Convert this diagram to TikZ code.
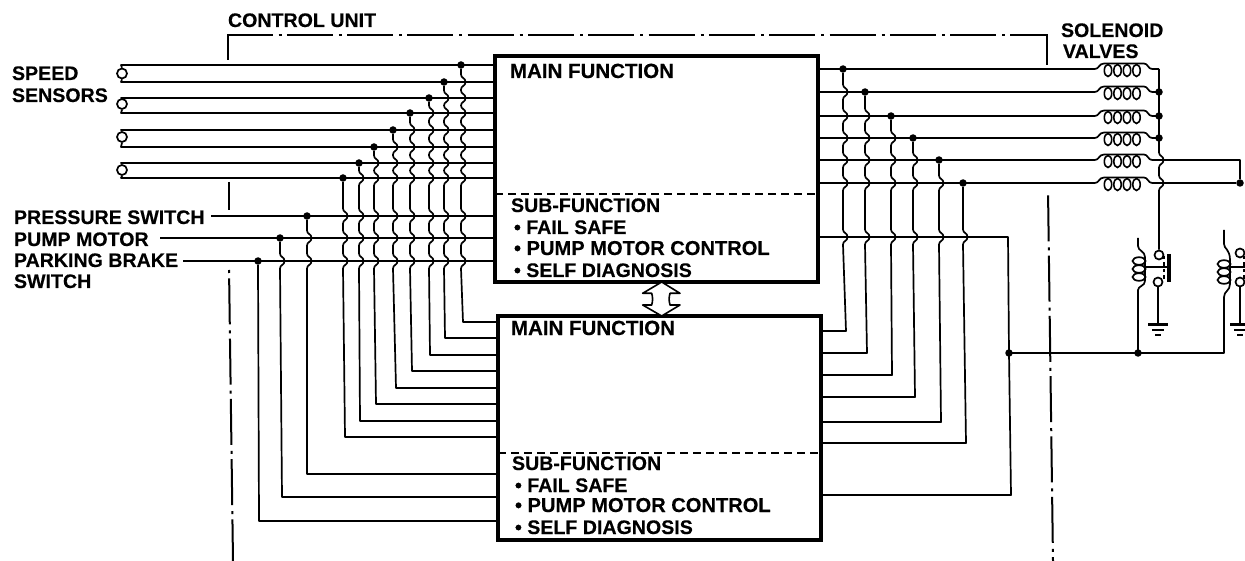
\documentclass[tikz,border=0pt]{standalone}
\usepackage{fontspec}
\setmainfont{Liberation Sans}[BoldFont={Liberation Sans Bold},BoldFeatures={FakeBold=0.25}]
\tikzset{
  wire/.style={line width=1.7pt,line join=round},
  fnbox/.style={draw,line width=3.2pt,minimum width=323pt,inner sep=0pt,outer sep=0pt},
  lbl/.style={anchor=base west,inner sep=0pt,outer sep=0pt,font=\fontsize{19.6pt}{20pt}\selectfont\bfseries},
  widelbl/.style={lbl,font=\fontsize{20.5pt}{21pt}\selectfont\bfseries},
  midlbl/.style={lbl,font=\fontsize{20.1pt}{21pt}\selectfont\bfseries},
  jdot/.style={circle,fill=black,inner sep=0pt,minimum size=7.5pt},
  ctact/.style={circle,draw,line width=1.7pt,fill=white,inner sep=0pt,minimum size=9pt},
  bound/.style={line width=2pt,dash pattern=on 46pt off 6pt on 3pt off 5.3pt},
  sepline/.style={line width=1.3pt,dash pattern=on 8pt off 5pt},
  solcoil/.pic={
    \draw[wire] (0,0) .. controls (4,0) and (4,-5.5) .. (9,-5.5) -- (49,-5.5) .. controls (53,-5.5) and (53,0) .. (57,0);
    \foreach \cx in {13,22.5,32,41.5}
      \draw[line width=1.6pt] (\cx,1.5) ellipse (3.7 and 6);
  },
  relaycoil/.pic={
    \foreach \cy in {-8,0,8}
      \draw[line width=1.7pt] (0,\cy) ellipse (6.5 and 3.8);
    \draw[line width=1.5pt] (6,-12) -- (6,12);
  },
  earth/.pic={
    \draw[line width=3pt] (-10,0) -- (10,0);
    \draw[line width=1.4pt] (-6,5) -- (6,5);
    \draw[line width=1.4pt] (-3,10) -- (3,10);
  },
}
% vertical wire: from junction name, x above, hop ys, lower x, lower corner y, end name
\newcommand{\hopwire}[6]{%
  \draw[wire] (#1.south) \foreach \h in {#3}{ -- (#2,\h-7.5) .. controls (#2,\h-3.5) and (#2+4.5,\h-4.5) .. (#2+4.5,\h) .. controls (#2+4.5,\h+4.5) and (#2,\h+3.5) .. (#2,\h+7.5) } -- (#4,#5) -- (#6);%
}
\begin{document}
\begin{tikzpicture}[x=1pt,y=-1pt]
\useasboundingbox (0,0) rectangle (1245,561);
\fill[white] (0,0) rectangle (1245,561);

% function blocks
\node[fnbox,minimum height=226pt] (boxA) at (656.5,169) {};
\node[fnbox,minimum height=224pt] (boxB) at (659.5,428) {};
\draw[sepline] (boxA.west |- 0,194) -- (boxA.east |- 0,194);
\draw[sepline] (boxB.west |- 0,453) -- (boxB.east |- 0,453);

% block texts
\node[widelbl] (ta1) at (510,78) {MAIN FUNCTION};
\node[lbl] (ta2) at (511,212) {SUB-FUNCTION};
\node[lbl] (ta3) at (514,234) {• FAIL SAFE};
\node[midlbl] (ta4) at (514,255) {• PUMP MOTOR CONTROL};
\node[lbl] (ta5) at (514,277) {• SELF DIAGNOSIS};
\node[widelbl] (tb1) at (511,335) {MAIN FUNCTION};
\node[lbl] (tb2) at (512,470) {SUB-FUNCTION};
\node[lbl] (tb3) at (515,492) {• FAIL SAFE};
\node[midlbl] (tb4) at (515,512) {• PUMP MOTOR CONTROL};
\node[lbl] (tb5) at (515,534) {• SELF DIAGNOSIS};

% outer labels
\node[lbl] (l1) at (12,80) {SPEED};
\node[lbl] (l2) at (12,102) {SENSORS};
\node[lbl] (l3) at (14,224) {PRESSURE SWITCH};
\node[lbl] (l4) at (14,246) {PUMP MOTOR};
\node[lbl] (l5) at (14,267) {PARKING BRAKE};
\node[lbl] (l6) at (14,288) {SWITCH};
\node[lbl] (l7) at (228,27) {CONTROL UNIT};
\node[lbl] (l8) at (1061,37) {SOLENOID};
\node[lbl] (l9) at (1063,58) {VALVES};

% control unit boundary
\coordinate (cuTL) at (228,35);
\coordinate (cuTR) at (1047,35);
\draw[line width=2pt] (228,60) -- (cuTL) -- (236,35);
\draw[line width=2pt] (1040,35) -- (cuTR) -- (1047,65);
\draw[bound,dash phase=9.5] (236,35) -- (1040,35);
\draw[line width=2pt] (229,182) -- (229,210);
\draw[bound,dash phase=49] (229,267) -- (233,561);
\draw[bound,dash phase=55] (1048,190) -- (1053,561);

% speed sensor inputs
\foreach \n/\cy/\ya/\yb in {1/73.5/65/82,2/104/98/113,3/137/130/147,4/170/163/178}{
  \node[ctact,minimum size=10pt] (sens\n) at (122,\cy) {};
  \draw[wire] (sens\n.north) -- (121,\ya) -- (boxA.west |- 0,\ya);
  \draw[wire] (sens\n.south) -- (121,\yb) -- (boxA.west |- 0,\yb);
}
% switch inputs
\coordinate (inP) at (211,216);
\coordinate (inM) at (160,238);
\coordinate (inB) at (183,261);
\draw[wire] (inP) -- (boxA.west |- inP);
\draw[wire] (inM) -- (boxA.west |- inM);
\draw[wire] (inB) -- (boxA.west |- inB);

% left junctions
\foreach \n/\x/\y in {1/461/65,2/444/82,3/429/98,4/410/113,5/393/130,6/374/147,7/359/163,8/343/178,9/307/216,10/280/238,11/258/261}
  \node[jdot] (jl\n) at (\x,\y) {};
% left cross wires
\hopwire{jl1}{461}{82,98,113,130,147,163,178,216,238,261}{463}{322}{boxB.west |- 0,322}
\hopwire{jl2}{444}{98,113,130,147,163,178,216,238,261}{445}{338}{boxB.west |- 0,338}
\hopwire{jl3}{429}{113,130,147,163,178,216,238,261}{430}{355}{boxB.west |- 0,355}
\hopwire{jl4}{410}{130,147,163,178,216,238,261}{412}{371}{boxB.west |- 0,371}
\hopwire{jl5}{393}{147,163,178,216,238,261}{396}{388}{boxB.west |- 0,388}
\hopwire{jl6}{374}{163,178,216,238,261}{376}{404}{boxB.west |- 0,404}
\hopwire{jl7}{359}{178,216,238,261}{360}{421}{boxB.west |- 0,421}
\hopwire{jl8}{343}{216,238,261}{345}{437}{boxB.west |- 0,437}
\hopwire{jl9}{307}{238,261}{307}{474}{boxB.west |- 0,474}
\hopwire{jl10}{280}{261}{282}{497}{boxB.west |- 0,497}
\draw[wire] (jl11.south) -- (259,521) -- (boxB.west |- 0,521);

% solenoid valve outputs
\foreach \n/\y in {1/69,2/92,3/116,4/138,5/160,6/183}{
  \coordinate (cin\n) at (1095,\y);
  \pic at (cin\n) {solcoil};
  \coordinate (cout\n) at (1152,\y);
  \draw[wire] (boxA.east |- cin\n) -- (cin\n);
}
\node[jdot] (bus2) at (1159,92) {};
\node[jdot] (bus3) at (1159,116) {};
\node[jdot] (bus4) at (1159,138) {};
\coordinate (bus1) at (1159,69);
\foreach \n in {1,2,3,4}
  \draw[wire] (cout\n) -- (1159,0 |- cout\n);
\node[jdot] (far6) at (1240,183) {};
\coordinate (far5) at (1240,160);
\draw[wire] (cout5) -- (far5) -- (far6) -- (cout6);
\node[ctact] (cA1) at (1159,255) {};
\node[ctact] (cA2) at (1158,282) {};
\node[ctact] (cB1) at (1240,253) {};
\node[ctact] (cB2) at (1240,282) {};
\hopwire{bus1}{1159}{160,183}{1159}{245}{cA1.north}

% right junctions and cross wires
\foreach \n/\x/\y in {1/843/69,2/865/92,3/891/116,4/913/138,5/939/160,6/963/183}
  \node[jdot] (jr\n) at (\x,\y) {};
\hopwire{jr1}{843}{92,116,138,160,183,237}{846}{331}{boxB.east |- 0,331}
\hopwire{jr2}{865}{116,138,160,183,237}{867}{353}{boxB.east |- 0,353}
\hopwire{jr3}{891}{138,160,183,237}{892}{375}{boxB.east |- 0,375}
\hopwire{jr4}{913}{160,183,237}{915}{397}{boxB.east |- 0,397}
\hopwire{jr5}{939}{183,237}{941}{422}{boxB.east |- 0,422}
\hopwire{jr6}{963}{237}{966}{443}{boxB.east |- 0,443}

% pump motor relay line
\node[jdot] (jm) at (1009,353) {};
\node[jdot] (jc) at (1138,353) {};
\draw[wire] (boxA.east |- 0,237) -- (1008,237) -- (jm.center) -- (1011,495) -- (boxB.east |- 0,495);
\draw[wire] (jm.center) -- (jc.center) -- (1224,353) -- (1224,297) .. controls (1224,291) and (1230,291) .. (1230,284);

% relay A
\pic at (1139,269) {relaycoil};
\draw[wire] (1138,238) -- (1138,246) .. controls (1138,251) and (1145,251) .. (1145,257);
\draw[wire] (jc.center) -- (1138,290) .. controls (1138,286) and (1145,286) .. (1145,281);
\coordinate (armA) at (1169,267);
\draw[wire] (1146,267) -- (armA);
\draw[line width=3.6pt] (1169,254) -- (1169,282);
\draw[line width=1.5pt,dash pattern=on 3.5pt off 3pt] (1164,256) -- (1164,281);
\coordinate (gndA) at (1158,325);
\draw[wire] (cA2.south) -- (gndA);
\pic at (gndA) {earth};

% relay B
\pic at (1224,272) {relaycoil};
\draw[wire] (1224,230) -- (1224,244) .. controls (1224,249) and (1230,249) .. (1230,260);
\coordinate (armB) at (1245,267);
\draw[wire] (1231,267) -- (armB);
\draw[line width=1.5pt,dash pattern=on 3.5pt off 3pt] (1244,256) -- (1244,281);
\coordinate (gndB) at (1240,325);
\draw[wire] (cB2.south) -- (gndB);
\pic at (gndB) {earth};

% data link between blocks
\coordinate (apexT) at (boxA.south -| 661.7,0);
\coordinate (apexB) at (boxB.north -| 661.7,0);
\draw[line width=1.6pt,line join=round,fill=white] (apexT) -- (642.7,293.3) -- (651.7,293.3) to[bend left=15] (651.7,305) -- (642.7,305) -- (apexB) -- (680,305) -- (670,305) to[bend left=15] (670,293.3) -- (680,293.3) -- cycle;
\end{tikzpicture}
\end{document}
